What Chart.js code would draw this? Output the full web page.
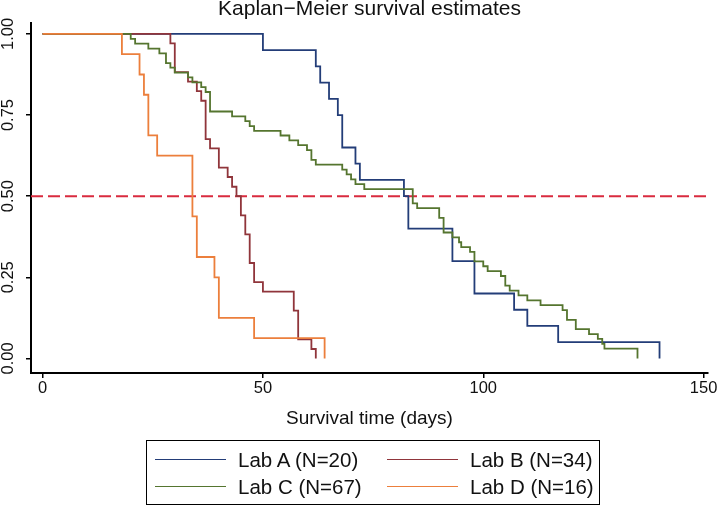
<!DOCTYPE html>
<html>
<head>
<meta charset="utf-8">
<script src="https://cdn.jsdelivr.net/npm/chart.js@4.4.1/dist/chart.umd.min.js"></script>
<style>
  body { margin: 0; background: #fff; }
  #wrap { position: relative; width: 718px; height: 506px; }
  #legend {
    position: absolute; left: 146px; top: 440px; width: 454px; height: 65px;
    border: 1px solid #000; box-sizing: border-box;
    font-family: 'Liberation Sans', Arial, sans-serif; font-size: 20.5px; color: #111;
  }
  .item { position: absolute; height: 20px; line-height: 20px; white-space: nowrap; }
  .swatch { position: absolute; left: 0; top: 9px; width: 71px; height: 0; border-top: 1.5px solid; }
  .label { position: absolute; left: 83px; top: 0; }
</style>
</head>
<body>
<div id="wrap">
  <canvas id="km" width="718" height="506"></canvas>
  <div id="legend"></div>
</div>
<script>
// Kaplan-Meier estimates: time of each step and survival after it
const labADays = [0, 50, 62, 63, 65, 67, 68, 71, 72, 82, 83, 93, 98, 107, 110, 117, 140];
const labASurv = [1, 0.95, 0.90, 0.85, 0.80, 0.75, 0.65, 0.60, 0.55, 0.50, 0.40, 0.30, 0.20, 0.15, 0.10, 0.05, 0];

const labBDays = [0, 29, 30, 33, 35, 36, 37, 38, 40, 42, 43, 44, 45, 46, 47, 48, 50, 57, 58, 61, 62];
const labBSurv = [1, 0.971, 0.882, 0.853, 0.824, 0.794, 0.676, 0.647, 0.588, 0.559, 0.529, 0.500,
                  0.441, 0.382, 0.294, 0.235, 0.206, 0.147, 0.059, 0.029, 0];

const labCDays = [0, 20, 21, 24, 26.5, 28, 29, 30, 33, 34, 36, 37, 38, 43, 46, 47, 48, 54, 56, 58,
                  60, 61, 62, 68, 69, 70, 71, 73, 84, 85, 90, 91, 93, 94.5, 95, 97, 98, 100, 101,
                  104, 105, 106, 108, 110, 113, 118, 119, 121, 124, 126, 127, 127.5, 135];
const labCSurv = [1, 0.985, 0.970, 0.955, 0.940, 0.910, 0.896, 0.881, 0.866, 0.851, 0.836, 0.821,
                  0.761, 0.746, 0.731, 0.716, 0.701, 0.687, 0.672, 0.657, 0.642, 0.612, 0.597,
                  0.582, 0.567, 0.552, 0.537, 0.522, 0.478, 0.463, 0.433, 0.388, 0.373, 0.358,
                  0.343, 0.328, 0.299, 0.284, 0.269, 0.254, 0.224, 0.209, 0.194, 0.179, 0.164,
                  0.149, 0.119, 0.090, 0.075, 0.060, 0.045, 0.030, 0];

const labDDays = [0, 18, 22, 23, 24, 26, 34, 35, 39, 40, 48, 64];
const labDSurv = [1, 0.9375, 0.875, 0.8125, 0.6875, 0.625, 0.4375, 0.3125, 0.25, 0.125, 0.0625, 0];

const groupLabels = ['Lab A (N=20)', 'Lab B (N=34)', 'Lab C (N=67)', 'Lab D (N=16)'];
const groupColors = ['#233d78', '#90353b', '#55752f', '#ec7f3c'];

const xTicks = [0, 50, 100, 150];
const yTicks = [0, 0.25, 0.5, 0.75, 1];
const medianLine = 0.5;

const xMin = -2.63, xMax = 151;
const yMin = -0.045, yMax = 1.034;

const FONT = "'Liberation Sans', Arial, sans-serif";

function steps(days, surv) {
    return days.map((d, i) => ({ x: d, y: surv[i] }));
}

const curves = [
    steps(labADays, labASurv),
    steps(labBDays, labBSurv),
    steps(labCDays, labCSurv),
    steps(labDDays, labDSurv)
];

// first dataset is drawn on top in Chart.js, so order is set to keep Lab D above
const datasets = curves.map((pts, i) => ({
    label: groupLabels[i],
    data: pts,
    borderColor: groupColors[i],
    borderWidth: 1.8,
    stepped: true,
    showLine: true,
    pointRadius: 0,
    fill: false,
    order: 4 - i
}));

datasets.push({
    label: 'median',
    data: [{ x: xMin, y: medianLine }, { x: xMax, y: medianLine }],
    borderColor: '#d92b3f',
    borderWidth: 2,
    borderDash: [12, 5],
    showLine: true,
    pointRadius: 0,
    order: 9
});

const ctx = document.getElementById('km').getContext('2d');
new Chart(ctx, {
    type: 'scatter',
    data: { datasets: datasets },
    options: {
        responsive: false,
        animation: false,
        layout: { padding: { left: 0, top: 0, right: 10, bottom: 73 } },
        plugins: {
            legend: { display: false },
            tooltip: { enabled: false },
            title: {
                display: true,
                text: 'Kaplan\u2212Meier survival estimates',
                fullSize: false,
                color: '#111',
                font: { family: FONT, size: 21, weight: 'normal', lineHeight: 0.9 },
                padding: { top: 0, bottom: 4 }
            }
        },
        scales: {
            x: {
                type: 'linear',
                min: xMin,
                max: xMax,
                afterBuildTicks: axis => { axis.ticks = xTicks.map(v => ({ value: v })); },
                afterFit: axis => {
                    axis.height = 60;
                    axis.paddingLeft = axis.paddingRight = 0;
                },
                border: { display: true, color: '#000', width: 2 },
                grid: { drawOnChartArea: false, drawTicks: true, tickLength: 5, color: '#000', lineWidth: 1.5 },
                ticks: {
                    color: '#111',
                    padding: 1,
                    maxRotation: 0,
                    font: { family: FONT, size: 16.5 },
                    callback: v => String(v)
                },
                title: {
                    display: true,
                    text: 'Survival time (days)',
                    color: '#111',
                    font: { family: FONT, size: 19 },
                    padding: { top: 0, bottom: 3 }
                }
            },
            y: {
                type: 'linear',
                min: yMin,
                max: yMax,
                afterBuildTicks: axis => { axis.ticks = yTicks.map(v => ({ value: v })); },
                afterFit: axis => {
                    axis.width = 31;
                    axis.paddingTop = axis.paddingBottom = 0;
                },
                border: { display: true, color: '#000', width: 2 },
                grid: { drawOnChartArea: false, drawTicks: true, tickLength: 5, color: '#000', lineWidth: 1.5 },
                ticks: {
                    color: '#111',
                    padding: 1.5,
                    minRotation: 90,
                    maxRotation: 90,
                    crossAlign: 'center',
                    font: { family: FONT, size: 16.5 },
                    callback: v => v.toFixed(2)
                }
            }
        }
    }
});

// legend box: two columns, two rows, built from the same labels and colours
const legendEl = document.getElementById('legend');
const colLeft = [8, 240];
const rowTop = [9, 35.5];
groupLabels.forEach((lab, i) => {
    const item = document.createElement('div');
    item.className = 'item';
    item.style.left = colLeft[i % 2] + 'px';
    item.style.top = rowTop[Math.floor(i / 2)] + 'px';
    const sw = document.createElement('span');
    sw.className = 'swatch';
    sw.style.borderTopColor = groupColors[i];
    const tx = document.createElement('span');
    tx.className = 'label';
    tx.textContent = lab;
    item.appendChild(sw);
    item.appendChild(tx);
    legendEl.appendChild(item);
});
</script>
</body>
</html>
